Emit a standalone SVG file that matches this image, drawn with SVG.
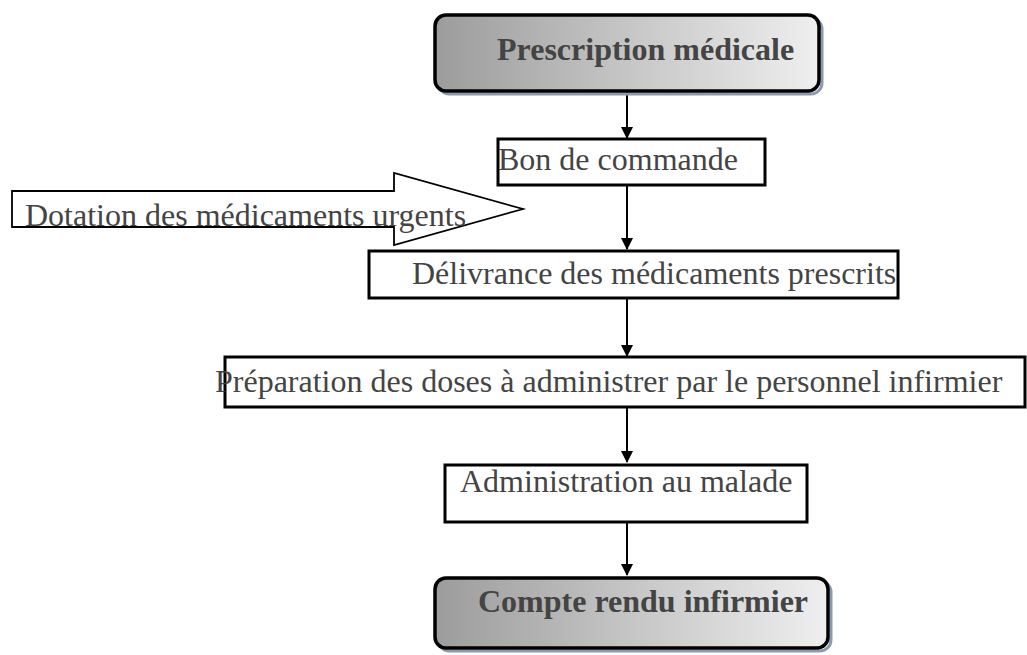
<svg xmlns="http://www.w3.org/2000/svg" width="1027" height="655" viewBox="0 0 1027 655">
<style>
  .box { fill: #ffffff; stroke: #000000; stroke-width: 3; }
  .rbox { fill: url(#grad); stroke: #000000; stroke-width: 3.5; }
  .shadow { fill: none; stroke: #8a9bb0; stroke-width: 3; }
  .t { font-family: "Liberation Serif", "Times New Roman", serif; font-size: 32px; fill: #444444; }
  .tb { font-family: "Liberation Serif", "Times New Roman", serif; font-size: 32px; font-weight: bold; fill: #444444; }
  .conn { stroke: #000000; stroke-width: 2; fill: none; }
</style>
<defs>
  <linearGradient id="grad" x1="0" y1="0" x2="1" y2="0">
    <stop offset="0" stop-color="#9c9c9c"/>
    <stop offset="1" stop-color="#efefef"/>
  </linearGradient>
  <marker id="ah" viewBox="0 0 12 12" refX="11" refY="6" markerWidth="12" markerHeight="12" markerUnits="userSpaceOnUse" orient="auto">
    <path d="M0,0 L12,6 L0,12 Z" fill="#000000"/>
  </marker>
</defs>

<g id="connectors">
  <line class="conn" x1="627" y1="92" x2="627" y2="138" marker-end="url(#ah)"/>
  <line class="conn" x1="627" y1="186" x2="627" y2="249" marker-end="url(#ah)"/>
  <line class="conn" x1="627" y1="299" x2="627" y2="356" marker-end="url(#ah)"/>
  <line class="conn" x1="627" y1="408" x2="627" y2="462" marker-end="url(#ah)"/>
  <line class="conn" x1="627" y1="522" x2="627" y2="575" marker-end="url(#ah)"/>
</g>

<g id="dotation">
  <path d="M12,191 L394,191 L394,173 L523,209 L394,245 L394,227 L12,227 Z" fill="#ffffff" stroke="#000000" stroke-width="1.8"/>
  <text class="t" x="25" y="226">Dotation des médicaments urgents</text>
</g>

<g id="prescription">
  <rect class="shadow" x="438" y="18" width="384" height="76" rx="11"/>
  <rect class="rbox" x="435" y="15" width="384" height="76" rx="11"/>
  <text class="tb" x="497" y="60">Prescription médicale</text>
</g>

<g id="bon">
  <rect class="box" x="498" y="139" width="267" height="46"/>
  <text class="t" x="498" y="170">Bon de commande</text>
</g>

<g id="delivrance">
  <rect class="box" x="369" y="251" width="529" height="47"/>
  <text class="t" x="412" y="284">Délivrance des médicaments prescrits</text>
</g>

<g id="preparation">
  <rect class="box" x="225" y="357" width="800" height="50"/>
  <text class="t" x="215" y="392">Préparation des doses à administrer par le personnel infirmier</text>
</g>

<g id="administration">
  <rect class="box" x="445" y="465" width="362" height="57"/>
  <text class="t" x="460" y="492">Administration au malade</text>
</g>

<g id="compte">
  <rect class="shadow" x="438" y="581" width="393" height="70" rx="11"/>
  <rect class="rbox" x="435" y="578" width="393" height="70" rx="11"/>
  <text class="tb" x="478" y="612">Compte rendu infirmier</text>
</g>
</svg>
